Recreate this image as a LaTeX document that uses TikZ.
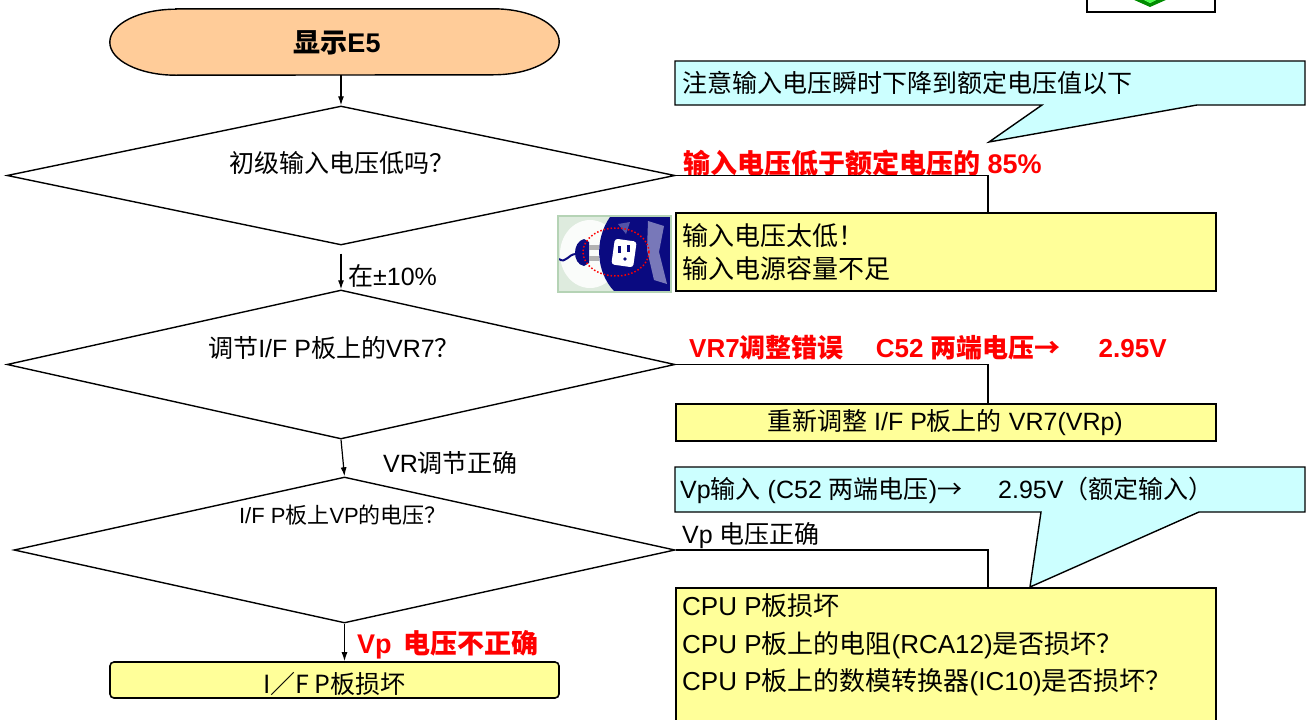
\documentclass[tikz,border=0pt]{standalone}
\usepackage{fontspec}
\setmainfont{Liberation Sans}
\newfontfamily\cjk{Noto Sans CJK SC}
\usetikzlibrary{shapes.geometric,arrows.meta,calc}
\newcommand\zh[1]{{\cjk #1}}
\newcommand\fsz[1]{\fontsize{#1}{#1}\selectfont}
\definecolor{peach}{HTML}{FFCC99}
\definecolor{notey}{HTML}{FFFF99}
\definecolor{notec}{HTML}{CCFFFF}
\definecolor{navyb}{HTML}{0A0A80}
\definecolor{framegreen}{HTML}{B5D3B5}
\definecolor{alertred}{HTML}{FF0000}

\begin{document}
\begin{tikzpicture}[x=1pt,y=-1pt,
  txt/.style={inner sep=0pt, font=\fsz{25}},
  alert/.style={inner sep=0pt, text=alertred, font=\fsz{26}\bfseries},
  decision/.style={diamond, draw, line width=1.4pt, inner sep=0pt},
  ybox/.style={draw, fill=notey, line width=1.6pt, inner sep=0pt},
  callout/.style={draw, fill=notec, line width=1.4pt, line join=miter},
  arr/.style={-{Latex[length=9pt,width=6pt]}, line width=1.2pt},
  conn/.style={line width=1.2pt}]

\useasboundingbox (0,0) rectangle (1309,720);
\fill[white] (0,0) rectangle (1309,720);

% partly visible box in the upper right corner
\draw[line width=1.4pt, fill=white] (1087,-5) rectangle (1215,12);
\fill[green!55!black] (1132,-1) -- (1150,7) -- (1168,-1) -- (1158,-1) -- (1150,3) -- (1142,-1) -- cycle;
\fill[green!70!white] (1142,-1) -- (1150,3) -- (1158,-1) -- cycle;

% start terminal
\node[minimum width=449pt, minimum height=66pt, inner sep=0pt] (start) at (334.5,42) {};
\draw[fill=peach, line width=1.4pt]
  ([xshift=66pt]start.north west) -- ([xshift=-66pt]start.north east)
  arc[start angle=-90, end angle=90, x radius=66, y radius=33]
  -- ([xshift=66pt]start.south west)
  arc[start angle=90, end angle=270, x radius=66, y radius=33] -- cycle;
\node[inner sep=0pt, font=\fsz{27}\bfseries] (starttext) at (337,43) {\zh{显示}E5};

% decisions
\node[decision, minimum width=668pt, minimum height=139pt] (d1) at (341,175.5) {};
\node[decision, minimum width=668pt, minimum height=149pt] (d2) at (341,364.5) {};
\node[decision, minimum width=661pt, minimum height=146pt] (d3) at (344.5,550) {};
\node[txt] (d1t) at (342,163) {\zh{初级输入电压低吗？}};
\node[txt] (d2t) at (334,348) {\zh{调节}I/F P\zh{板上的}VR7\zh{？}};
\node[txt, font=\fsz{22}] (d3t) at (343,515) {I/F P\zh{板上}VP\zh{的电压？}};

% final box of the main column
\node[ybox, rounded corners=4pt, minimum width=449pt, minimum height=36pt] (fail) at (334.5,680) {};
\node[txt] (failt) at (334.5,684) {\zh{I／F P板损坏}};

% main column arrows and labels
\draw[arr] (start.south -| d1.north) -- (d1.north);
\draw[arr, shorten <=8pt] (d1.south) -- (d2.north);
\draw[arr] (d2.south) -- (d3.north);
\draw[arr] (d3.south) -- (d3.south |- fail.north);
\node[txt, anchor=west] (l1) at (348,276) {\zh{在}±10\%};
\node[txt, anchor=west] (l2) at (383,463) {VR\zh{调节正确}};
\node[alert, font=\fsz{27}\bfseries, anchor=west] (l3) at (357,645) {Vp\hspace{12pt}\zh{电压不正确}};

% right column: notes
\coordinate (kx) at (988,0);

\filldraw[callout] (675,61) -- (1305,61) -- (1305,105) -- (1197,105) -- (989,142) -- (1042,105) -- (675,105) -- cycle;
\node[txt, anchor=west] (c1t) at (682,83) {\zh{注意输入电压瞬时下降到额定电压值以下}};

\node[alert, font=\fsz{27}\bfseries, anchor=west] (r1) at (683,163) {\zh{输入电压低于额定电压的} 85\%};
\node[ybox, anchor=north west, minimum width=540pt, minimum height=78pt] (b1) at (675,212) {};
\node[txt, font=\fontsize{26}{33}\selectfont, anchor=west, align=left] (b1t) at (682,252) {\zh{输入电压太低！}\\\zh{输入电源容量不足}};
\draw[conn] (d1.east) -| (kx |- b1.north);

% plug and socket picture
\begin{scope}
  \clip (559,217) rectangle (670,291);
  \fill[framegreen!45!white] (559,217) rectangle (670,291);
  \fill[white, opacity=.85] (590,254) ellipse[x radius=30, y radius=34];
  \fill[navyb] (610,217) .. controls (594,240) and (596,272) .. (614,291) -- (670,291) -- (670,217) -- cycle;
  \fill[navyb!55!white] (648,221) -- (664,226) -- (659,252) -- (667,284) -- (654,280) -- (647,250) -- cycle;
  \fill[navyb!70!white] (618,224) -- (630,222) -- (626,234) -- cycle;
  \fill[white, rounded corners=3pt, rotate around={-8:(624,253)}] (613,240) rectangle (635,266);
  \fill[navyb] (618,246) rectangle (621,253);
  \fill[navyb] (627,245) rectangle (630,252);
  \fill[navyb] (625,259) circle[radius=1.8];
  \fill[navyb] (584,239) .. controls (572,242) and (572,264) .. (584,266) -- (589,263) -- (589,242) -- cycle;
  \fill[gray!60] (589,245) rectangle (599,250);
  \fill[gray!60] (589,256) rectangle (599,261);
  \draw[navyb, line width=2pt] (576,254) .. controls (568,254) and (566,264) .. (559,259);
  \draw[alertred, dash pattern=on 1.5pt off 2pt, line width=1.5pt] (616,252) ellipse[x radius=33, y radius=24];
\end{scope}
\draw[framegreen, line width=2.5pt] (558,216) rectangle (671,292);

\node[alert, anchor=west] (r2) at (689,348) {VR7\zh{调整错误}\hspace{32pt}C52 \zh{两端电压→}\hspace{38pt}2.95V};
\node[ybox, anchor=north west, minimum width=540pt, minimum height=37pt] (b2) at (675,403) {};
\node[txt] (b2t) at (945,423) {\zh{重新调整} I/F P\zh{板上的} VR7(VRp)};
\draw[conn] (d2.east) -| (kx |- b2.north);

\node[ybox, anchor=north west, minimum width=540pt, minimum height=140pt] (b3) at (675,587) {};
\node[txt, font=\fontsize{26}{37.5}\selectfont, anchor=west, align=left] (b3t) at (682,645)
  {CPU P\zh{板损坏}\\CPU P\zh{板上的电阻}(RCA12)\zh{是否损坏？}\\CPU P\zh{板上的数模转换器}(IC10)\zh{是否损坏？}};
\node[txt, anchor=west] (l4) at (682,536) {Vp \zh{电压正确}};
\draw[conn] (d3.east) -| (kx |- b3.north);

\filldraw[callout] (675,467) -- (1305,467) -- (1305,512) -- (1199,512) -- (1030,587) -- (1041,512) -- (675,512) -- cycle;
\node[txt, anchor=west] (c2t) at (680,490) {Vp\zh{输入} (C52 \zh{两端电压})\zh{→}\hspace{36pt}2.95V\zh{（额定输入）}};

\end{tikzpicture}
\end{document}
